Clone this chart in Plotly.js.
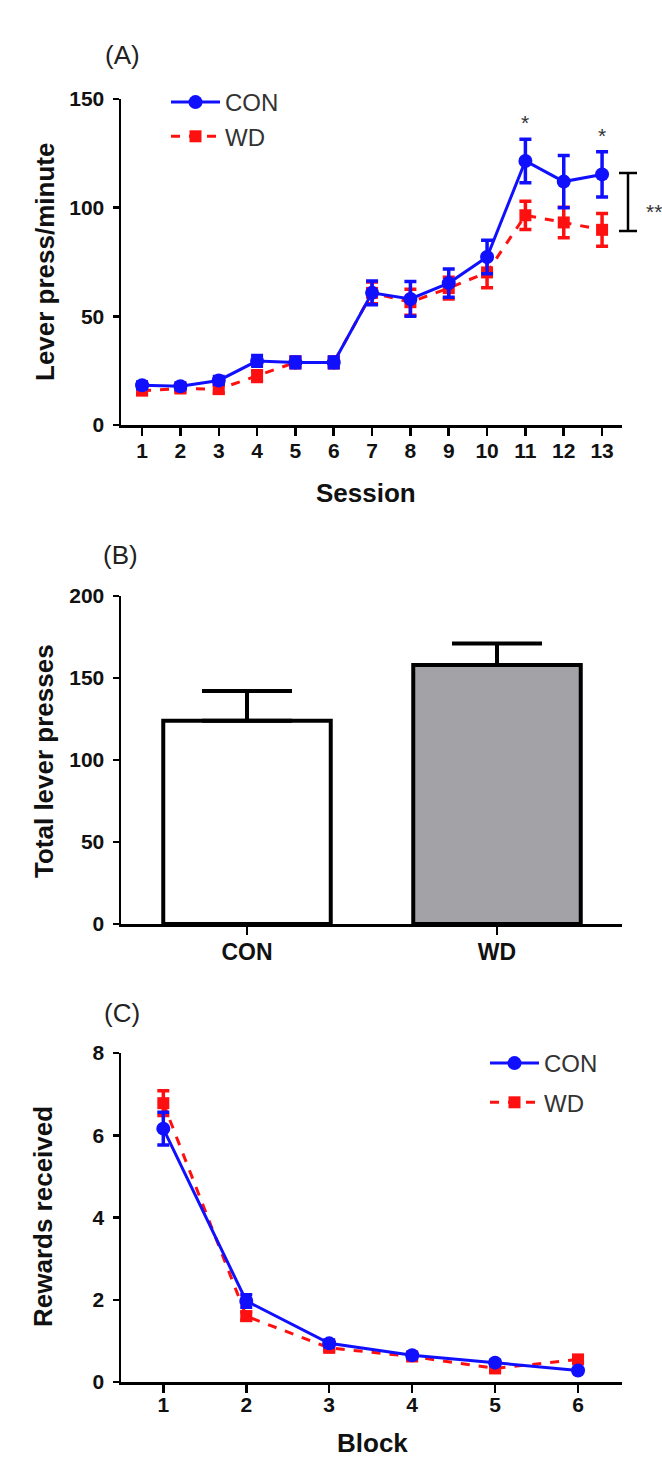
<!DOCTYPE html>
<html>
<head>
<meta charset="utf-8">
<script src="https://cdn.plot.ly/plotly-3.0.1.min.js"></script>
<style>html,body{margin:0;padding:0;background:#fff;}#chart{width:662px;height:1463px;}</style>
</head>
<body>
<div id="chart"></div>
<script>
// ---- Panel A: lever press per minute by session ----
const sessions = [1,2,3,4,5,6,7,8,9,10,11,12,13];
const conRate = [18.3,17.8,20.5,29.5,28.8,28.8,60.8,58.0,65.3,77.3,121.5,112.0,115.3];
const conRateSem = [1.5,1.5,1.8,2.5,2.5,2.5,5.5,8.0,6.5,7.7,10.0,12.0,10.4];
const wdRate = [15.8,16.8,16.5,22.5,28.8,28.8,60.8,56.5,63.0,70.2,96.5,93.2,89.8];
const wdRateSem = [1.5,1.5,1.8,2.5,2.5,2.5,5.0,6.0,5.0,7.0,6.5,7.0,7.5];

// ---- Panel B: total lever presses ----
const groups = ['CON','WD'];
const totalPresses = [124,158];
const totalPressesSem = [18,13];

// ---- Panel C: rewards received by block ----
const blocks = [1,2,3,4,5,6];
const conRewards = [6.16,1.97,0.94,0.65,0.47,0.28];
const conRewardsSem = [0.4,0.15,0.08,0.06,0.06,0.05];
const wdRewards = [6.78,1.60,0.83,0.62,0.33,0.55];
const wdRewardsSem = [0.3,0.1,0.07,0.06,0.06,0.07];

const BLUE = '#1010ff', RED = '#ff1010';
const W = 662, H = 1463;
const px = v => v / W, py = v => 1 - v / H;

const tickFont = {family: 'Liberation Sans, Arial, sans-serif', size: 21, color: '#111', weight: 'bold'};
function xax(range, extra) {
  return Object.assign({
    domain: [px(121), px(622)], range: range, showline: true, linewidth: 2.5, linecolor: '#000',
    ticks: 'outside', ticklen: 8, tickwidth: 2.5, tickcolor: '#000', showgrid: false, zeroline: false,
    tickfont: tickFont, fixedrange: true
  }, extra || {});
}
function yax(top, bottom, range, dtick, extra) {
  return Object.assign({
    domain: [py(bottom), py(top)], range: range, dtick: dtick, tick0: 0, showline: true, linewidth: 2.5,
    linecolor: '#000', ticks: 'outside', ticklen: 6, tickwidth: 2.5, tickcolor: '#000', showgrid: false,
    zeroline: false, tickfont: tickFont, fixedrange: true
  }, extra || {});
}

const errStyle = (arr, color, w) => ({type: 'data', array: arr, visible: true, color: color, thickness: 3.5, width: w});

const traces = [
  {x: sessions, y: wdRate, error_y: errStyle(wdRateSem, RED, 6), name: 'WD', type: 'scatter', mode: 'lines+markers',
   line: {color: RED, width: 3, dash: 'dash'}, marker: {symbol: 'square', size: 12, color: RED},
   xaxis: 'x', yaxis: 'y', legend: 'legend', legendrank: 2, cliponaxis: false},
  {x: sessions, y: conRate, error_y: errStyle(conRateSem, BLUE, 6), name: 'CON', type: 'scatter', mode: 'lines+markers',
   line: {color: BLUE, width: 3}, marker: {symbol: 'circle', size: 14, color: BLUE},
   xaxis: 'x', yaxis: 'y', legend: 'legend', legendrank: 1, cliponaxis: false},
  {x: groups, y: totalPresses, type: 'bar', width: 0.67, showlegend: false,
   marker: {color: ['#ffffff', '#a3a3a7'], line: {color: '#000', width: 4}},
   error_y: {type: 'data', array: totalPressesSem, arrayminus: [0, 0], symmetric: false, visible: true, color: '#000', thickness: 4, width: 45},
   xaxis: 'x2', yaxis: 'y2', cliponaxis: false},
  {x: blocks, y: wdRewards, error_y: errStyle(wdRewardsSem, RED, 6), name: 'WD', type: 'scatter', mode: 'lines+markers',
   line: {color: RED, width: 3, dash: 'dash'}, marker: {symbol: 'square', size: 12, color: RED},
   xaxis: 'x3', yaxis: 'y3', legend: 'legend2', legendrank: 2, legendgroup: 'cwd', cliponaxis: false},
  {x: blocks, y: conRewards, error_y: errStyle(conRewardsSem, BLUE, 6), name: 'CON', type: 'scatter', mode: 'lines+markers',
   line: {color: BLUE, width: 3}, marker: {symbol: 'circle', size: 14, color: BLUE},
   xaxis: 'x3', yaxis: 'y3', legend: 'legend2', legendrank: 1, legendgroup: 'ccon', cliponaxis: false}
];

const legFont = {family: 'Liberation Sans, Arial, sans-serif', size: 24, color: '#333'};
const titleFont = {family: 'Liberation Sans, Arial, sans-serif', size: 26, color: '#111', weight: 'bold'};
const panelFont = {family: 'Liberation Sans, Arial, sans-serif', size: 26, color: '#222'};
const starFont = {family: 'Liberation Sans, Arial, sans-serif', size: 21, color: '#333'};

const ann = (text, x, y, font, extra) => Object.assign({text: text, x: px(x), y: py(y), xref: 'paper', yref: 'paper',
  showarrow: false, font: font, xanchor: 'center', yanchor: 'middle'}, extra || {});
const pline = (x0, y0, x1, y1) => ({type: 'line', xref: 'paper', yref: 'paper', x0: px(x0), x1: px(x1),
  y0: py(y0), y1: py(y1), line: {color: '#000', width: 2.5}});

const layout = {
  width: W, height: H, margin: {l: 0, r: 0, t: 0, b: 0}, paper_bgcolor: '#fff', plot_bgcolor: '#fff',
  showlegend: true,
  xaxis: xax([0.45, 13.52], {tickvals: sessions, ticklabelstandoff: -3}),
  yaxis: yax(99, 425, [0, 150], 50, {ticklabelstandoff: 4}),
  xaxis2: xax([-0.504, 1.5], {anchor: 'y2', ticklabelstandoff: -2, tickfont: Object.assign({}, tickFont, {size: 23})}),
  yaxis2: yax(596, 924, [0, 200], 50, {anchor: 'x2', ticklabelstandoff: 4}),
  xaxis3: xax([0.49, 6.53], {anchor: 'y3', tickvals: blocks, ticklabelstandoff: -6}),
  yaxis3: yax(1053, 1382, [0, 8], 2, {anchor: 'x3', ticklabelstandoff: 4}),
  legend: {x: px(166), y: py(80), xanchor: 'left', yanchor: 'top', font: legFont, bgcolor: 'rgba(0,0,0,0)',
           itemwidth: 49, tracegroupgap: 0, traceorder: 'normal'},
  legend2: {x: px(485), y: py(1041), xanchor: 'left', yanchor: 'top', font: legFont, bgcolor: 'rgba(0,0,0,0)',
            itemwidth: 49, tracegroupgap: 5, traceorder: 'grouped'},
  shapes: [
    pline(628, 173, 628, 231),
    pline(619, 173, 637, 173),
    pline(619, 231, 637, 231)
  ],
  annotations: [
    ann('(A)', 122, 55, panelFont),
    ann('(B)', 120, 555, panelFont),
    ann('(C)', 122, 1013, panelFont),
    ann('Lever press/minute', 45, 262, titleFont, {textangle: -90}),
    ann('Total lever presses', 44, 761, titleFont, {textangle: -90}),
    ann('Rewards received', 43, 1217, titleFont, {textangle: -90}),
    ann('Session', 366, 493, titleFont),
    ann('Block', 372, 1443, titleFont),
    {text: '*', x: 11, y: 133, xref: 'x', yref: 'y', showarrow: false, yanchor: 'bottom', font: starFont},
    {text: '*', x: 13, y: 127, xref: 'x', yref: 'y', showarrow: false, yanchor: 'bottom', font: starFont},
    ann('**', 644, 211, starFont, {xanchor: 'left'})
  ]
};

Plotly.newPlot('chart', traces, layout, {displayModeBar: false, staticPlot: true});
</script>
</body>
</html>
